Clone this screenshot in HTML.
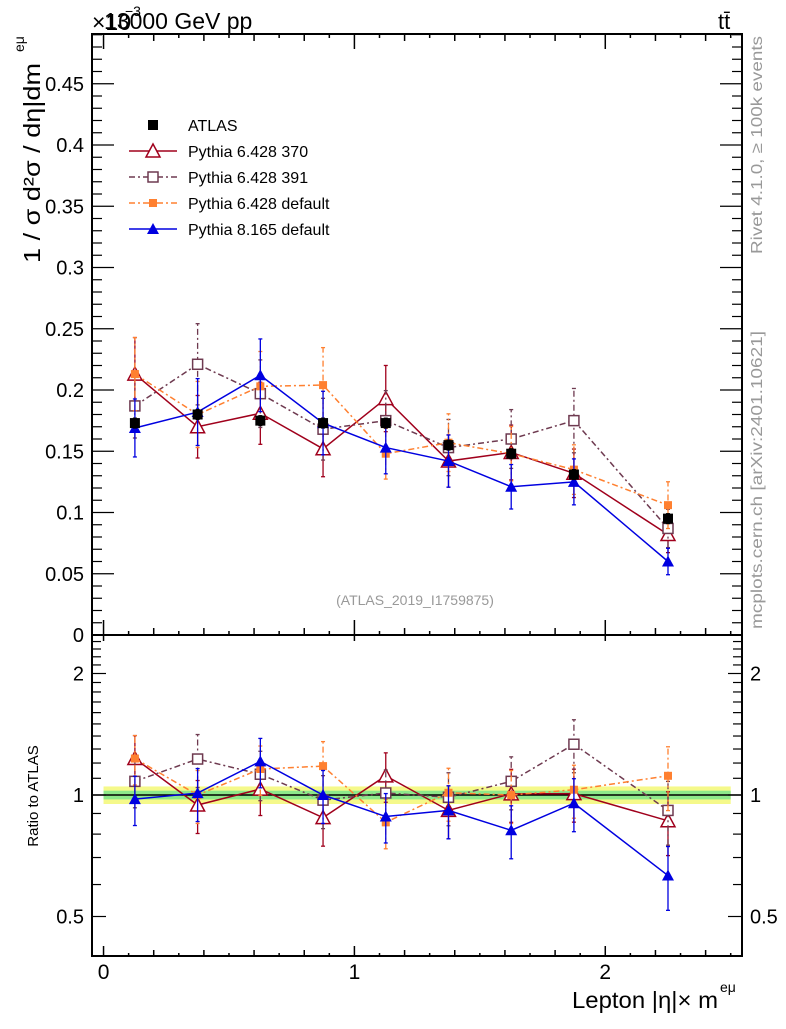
<!DOCTYPE html>
<html><head><meta charset="utf-8"><style>
body{margin:0;background:#fff}
svg text{font-family:"Liberation Sans",sans-serif}
</style></head><body>
<svg id="c" width="786" height="1024" xmlns="http://www.w3.org/2000/svg"></svg>
<script>
const xCenters=[0.125,0.375,0.625,0.875,1.125,1.375,1.625,1.875,2.25];
const xHalf=[0.125,0.125,0.125,0.125,0.125,0.125,0.125,0.125,0.25];
const atlas=[0.173,0.180,0.175,0.173,0.173,0.155,0.148,0.131,0.095];
const atlasErr=[0.004,0.004,0.004,0.004,0.004,0.004,0.004,0.004,0.004];
const py370=[0.213,0.170,0.181,0.152,0.193,0.142,0.149,0.132,0.082];
const py391=[0.187,0.221,0.197,0.168,0.175,0.153,0.160,0.175,0.087];
const py6def=[0.213,0.180,0.203,0.204,0.148,0.157,0.148,0.135,0.106];
const py8=[0.169,0.182,0.212,0.173,0.153,0.142,0.121,0.125,0.060];
const relErr=[0.14,0.15,0.14,0.15,0.14,0.15,0.15,0.15,0.18];
const mainTicks=[0,0.05,0.1,0.15,0.2,0.25,0.3,0.35,0.4,0.45];
const mainTickLabels=["0","0.05","0.1","0.15","0.2","0.25","0.3","0.35","0.4","0.45"];
const ratioTicks=[0.5,1,2];
const ratioTickLabels=["0.5","1","2"];
const xTicks=[0,1,2];

const svg=document.getElementById('c');
const NS="http://www.w3.org/2000/svg";
const L=92,R=742,T1=34,B1=635,B2=956;
const X0=-0.046,X1=2.545;
const sx=v=>L+(v-X0)/(X1-X0)*(R-L);
const sy=v=>B1-v*1225;
const R0=0.398,R1=2.48;
const sr=v=>795-Math.log2(v)*121.5;
function el(t,a,p){const e=document.createElementNS(NS,t);for(const k in a)e.setAttribute(k,a[k]);(p||svg).appendChild(e);return e;}
function txt(x,y,s,a,p){const e=el('text',Object.assign({x:x,y:y},a||{}),p);e.textContent=s;return e;}

const band=el('g',{});


el('rect',{x:sx(0),y:sr(1.05),width:sx(2.5)-sx(0),height:sr(0.95)-sr(1.05),fill:'#f5f98a'},band);
el('rect',{x:sx(0),y:sr(1.025),width:sx(2.5)-sx(0),height:sr(0.975)-sr(1.025),fill:'#8de88a'},band);
el('line',{x1:L,x2:R,y1:sr(1),y2:sr(1),stroke:'#000','stroke-width':1.5},band);

const f1=el('rect',{x:L,y:T1,width:R-L,height:B1-T1,fill:'none',stroke:'#000','stroke-width':2});

const f2=el('rect',{x:L,y:B1,width:R-L,height:B2-B1,fill:'none',stroke:'#000','stroke-width':2});


const xt=el('g',{stroke:'#000','stroke-width':1.5});

for(let i=0;i<=25;i++){const v=i/10;const x=sx(v);const maj=(i%10==0);const mid=(i%2==0);
 const a=maj?15:(mid?7:4);
 el('line',{x1:x,x2:x,y1:T1,y2:T1+(maj?15:(mid?7:4))},xt);
 el('line',{x1:x,x2:x,y1:B1,y2:B1-a},xt);
 el('line',{x1:x,x2:x,y1:B1,y2:B1+(maj?6:0)},xt);
 el('line',{x1:x,x2:x,y1:B2,y2:B2-(maj?10:(mid?6:3))},xt);}
xTicks.forEach(v=>{const t=txt(sx(v),979,String(v),{'font-size':21,'text-anchor':'middle'});
 });
const yt=el('g',{stroke:'#000','stroke-width':1.2});

for(let i=0;i<=49;i++){const y=sy(i/100);const len=(i%5==0)?22:10;
 el('line',{x1:L,x2:L+len,y1:y,y2:y},yt);el('line',{x1:R,x2:R-len,y1:y,y2:y},yt);}
mainTicks.forEach((v,i)=>{const t=txt(L-8,sy(v)+7,mainTickLabels[i],{'font-size':20,'text-anchor':'end'});
 });
const rminor=[0.4,0.5,0.6,0.7,0.8,0.9,1,1.1,1.2,1.3,1.4,1.5,1.6,1.7,1.8,1.9,2,2.1,2.2,2.3,2.4];
rminor.forEach(v=>{const y=sr(v);if(y>B2||y<B1)return;const len=ratioTicks.includes(v)?14:9;
 el('line',{x1:L,x2:L+len,y1:y,y2:y},yt);el('line',{x1:R,x2:R-len,y1:y,y2:y},yt);});
ratioTicks.forEach((v,i)=>{
 const t=txt(L-8,sr(v)+7,ratioTickLabels[i],{'font-size':20,'text-anchor':'end'});
 
 const t2=txt(R+8,sr(v)+7,ratioTickLabels[i],{'font-size':20});
 });

function marker(g,x,y,type,col){
 if(type=='sqf')el('rect',{x:x-5,y:y-5,width:10,height:10,fill:col},g);
 if(type=='sqo')el('rect',{x:x-5,y:y-5,width:10,height:10,fill:'#fff',stroke:col,'stroke-width':1.5},g);
 if(type=='sqs')el('rect',{x:x-4,y:y-4,width:8,height:8,fill:col},g);
 if(type=='tro')el('polygon',{points:`${x},${y-7} ${x-7},${y+6} ${x+7},${y+6}`,fill:'#fff',stroke:col,'stroke-width':1.5},g);
 if(type=='trf')el('polygon',{points:`${x},${y-6} ${x-6},${y+5} ${x+6},${y+5}`,fill:col},g);
}
const series=[
 {name:'py370',vals:py370,col:'#a0001c',dash:'',m:'tro'},
 {name:'py391',vals:py391,col:'#6e3a50',dash:'6,3,2,3',m:'sqo'},
 {name:'py6-default',vals:py6def,col:'#ff8030',dash:'6,3,2,3',m:'sqs'},
 {name:'py8-default',vals:py8,col:'#0000e0',dash:'',m:'trf'}
];
function drawSeries(vals,errs,col,dash,m,ys,name,isData){
 const g=el('g',{});
 
 if(!isData){let pts=xCenters.map((x,i)=>sx(x)+','+ys(vals[i])).join(' ');
  el('polyline',{points:pts,fill:'none',stroke:col,'stroke-width':1.5,'stroke-dasharray':dash},g);}
 xCenters.forEach((x,i)=>{const X=sx(x);const lo=ys(vals[i]-errs[i]),hi=ys(vals[i]+errs[i]);
  el('line',{x1:X,x2:X,y1:lo,y2:hi,stroke:col,'stroke-width':1.3,'stroke-dasharray':dash},g);
  el('line',{x1:X-2,x2:X+2,y1:lo,y2:lo,stroke:col,'stroke-width':1.3},g);
  el('line',{x1:X-2,x2:X+2,y1:hi,y2:hi,stroke:col,'stroke-width':1.3},g);
  marker(g,X,ys(vals[i]),m,col);});
}
series.forEach(s=>{
 drawSeries(s.vals,s.vals.map((v,i)=>v*relErr[i]),s.col,s.dash,s.m,sy,'series-'+s.name,false);
 const rv=s.vals.map((v,i)=>v/atlas[i]);
 drawSeries(rv,rv.map((v,i)=>v*relErr[i]),s.col,s.dash,s.m,sr,'ratio-'+s.name,false);
});
drawSeries(atlas,atlasErr,'#000','','sqf',sy,'series-atlas',true);

const lg=el('g',{});

const leg=[['ATLAS','#000','','sqf',true],['Pythia 6.428 370','#a0001c','','tro'],['Pythia 6.428 391','#6e3a50','6,3,2,3','sqo'],['Pythia 6.428 default','#ff8030','6,3,2,3','sqs'],['Pythia 8.165 default','#0000e0','','trf']];
leg.forEach((e,i)=>{const y=125+i*26;const g=el('g',{},lg);
 
 if(!e[4])el('line',{x1:129,x2:177,y1:y,y2:y,stroke:e[1],'stroke-width':1.5,'stroke-dasharray':e[2]},g);
 marker(g,153,y,e[3],e[1]);
 txt(188,y+6,e[0],{'font-size':16},g);});

let t;
t=txt(92,30,'×10',{'font-size':23});
t=txt(125,16,'−3',{'font-size':14});
t=txt(104,29,'13000 GeV pp',{'font-size':23});
t=txt(718,29,'tt̄',{'font-size':22});
t=txt(415,605,'(ATLAS_2019_I1759875)',{'font-size':14,'text-anchor':'middle',fill:'#999'});
t=txt(572,1008,'Lepton |η|× m',{'font-size':23,'textLength':146,'lengthAdjust':'spacingAndGlyphs'});
t=txt(720,992,'eμ',{'font-size':14});
t=txt(0,0,'1 / σ  d²σ / dη|dm',{'font-size':23,'textLength':200,'lengthAdjust':'spacingAndGlyphs',transform:'translate(40,263) rotate(-90)'});
t=txt(0,0,'eμ',{'font-size':14,transform:'translate(24,52) rotate(-90)'});
t=txt(0,0,'Ratio to ATLAS',{'font-size':15,'text-anchor':'middle',transform:'translate(38,796) rotate(-90)'});
t=txt(0,0,'Rivet 4.1.0, ≥ 100k events',{'font-size':16,'text-anchor':'middle',fill:'#999','textLength':218,'lengthAdjust':'spacingAndGlyphs',transform:'translate(762,145) rotate(-90)'});
t=txt(0,0,'mcplots.cern.ch [arXiv:2401.10621]',{'font-size':16,'text-anchor':'middle',fill:'#999','textLength':298,'lengthAdjust':'spacingAndGlyphs',transform:'translate(762,480) rotate(-90)'});
</script>
</body></html>
